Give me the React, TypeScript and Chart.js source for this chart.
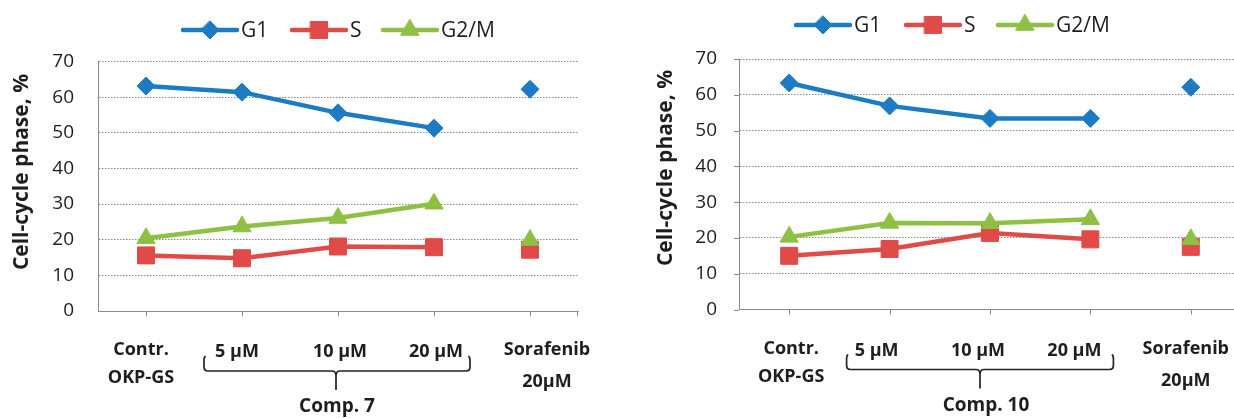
import React, { useEffect, useRef } from "react";
import { Chart, registerables } from "chart.js";

Chart.register(...registerables);

// ---------- data ----------
const categories = ["Contr. OKP-GS", "5 µM", "10 µM", "20 µM", "Sorafenib 20µM"];
const categoryLines = [["Contr.", "OKP-GS"], ["5 µM"], ["10 µM"], ["20 µM"], ["Sorafenib", "20µM"]];
const seriesNames = ["G1", "S", "G2/M"];
const comp7G1 = [63.1, 61.4, 55.6, 51.3, 62.2];
const comp7S = [15.6, 14.8, 18.1, 17.9, 17.2];
const comp7G2M = [20.4, 23.7, 26.1, 30.1, 19.9];
const comp10G1 = [63.3, 56.9, 53.4, 53.4, 62.1];
const comp10S = [15.0, 16.9, 21.4, 19.6, 17.5];
const comp10G2M = [20.3, 24.2, 24.1, 25.2, 19.6];
const yTickValues = [0, 10, 20, 30, 40, 50, 60, 70];
const yAxisTitle = "Cell-cycle phase, %";
const groupTitles = ["Comp. 7", "Comp. 10"];

// ---------- styles ----------
const FONT = "'Open Sans', 'DejaVu Sans', sans-serif";
const TEXT = "#1e1e1e";
const AXIS = "#8a8a8a";
const GRID = "#8a8a8a";
const BLUE = "#1c7bc3";
const RED = "#e04a47";
const GREEN = "#8dc043";
const seriesStyles = [
  { color: BLUE, pointStyle: "rectRot", radius: 9, order: 2 },
  { color: RED, pointStyle: "rect", radius: 12, order: 1 },
  { color: GREEN, pointStyle: "triangle", radius: 10.5, order: 0 },
];

type Spec = {
  canvasLeft: number;
  width: number;
  plotLeft: number;
  plotRight: number;
  top: number;
  bottom: number;
  yTickMarks: boolean;
  tickPad: number;
  legendX: number[];
  legendY: number;
  titleX: number;
  titleY: number;
  labelDx: number[];
  braceDx: number[]; // left (rel cat 1), stem (rel cat 2), right (rel cat 3)
  groupDx: number;
  groupTitle: string;
  series: number[][];
};

const panels: Spec[] = [
  {
    canvasLeft: 0, width: 620, plotLeft: 98, plotRight: 578, top: 61.5, bottom: 311,
    yTickMarks: false, tickPad: 24, legendX: [183, 292, 383], legendY: 30,
    titleX: 22, titleY: 172, labelDx: [-5, -5, 2, 2, 17], braceDx: [-38, -2, 36],
    groupDx: 1, groupTitle: groupTitles[0], series: [comp7G1, comp7S, comp7G2M],
  },
  {
    canvasLeft: 620, width: 640, plotLeft: 119, plotRight: 621, top: 59, bottom: 309.5,
    yTickMarks: true, tickPad: 22, legendX: [176, 286, 378], legendY: 25,
    titleX: 46, titleY: 168, labelDx: [2, -13, -12, -16, -5], braceDx: [-43, -10, 23],
    groupDx: 6, groupTitle: groupTitles[1], series: [comp10G1, comp10S, comp10G2M],
  },
];

function drawMarker(ctx: CanvasRenderingContext2D, style: string, x: number, y: number, r: number, color: string) {
  ctx.fillStyle = color;
  ctx.strokeStyle = color;
  ctx.lineWidth = 1;
  ctx.setLineDash([]);
  ctx.beginPath();
  if (style === "rectRot") {
    ctx.moveTo(x, y - r);
    ctx.lineTo(x + r, y);
    ctx.lineTo(x, y + r);
    ctx.lineTo(x - r, y);
    ctx.closePath();
  } else if (style === "rect") {
    const s = r * Math.SQRT1_2;
    ctx.rect(x - s, y - s, 2 * s, 2 * s);
  } else {
    ctx.moveTo(x, y - r);
    ctx.lineTo(x + r * 0.866, y + r * 0.5);
    ctx.lineTo(x - r * 0.866, y + r * 0.5);
    ctx.closePath();
  }
  ctx.fill();
  ctx.stroke();
}

function makeOverlay(spec: Spec) {
  return {
    id: "overlay",
    afterDraw(chart: any) {
      const ctx: CanvasRenderingContext2D = chart.ctx;
      const a = chart.chartArea;
      const xs = chart.scales.x;
      const ys = chart.scales.y;
      ctx.save();
      ctx.setLineDash([]);

      // tick marks
      ctx.strokeStyle = AXIS;
      ctx.lineWidth = 1;
      ctx.beginPath();
      for (let i = 0; i < categories.length; i++) {
        const px = Math.round(xs.getPixelForValue(i)) + 0.5;
        ctx.moveTo(px, a.bottom);
        ctx.lineTo(px, a.bottom + 5);
      }
      ctx.moveTo(Math.round(a.right) - 0.5, a.bottom);
      ctx.lineTo(Math.round(a.right) - 0.5, a.bottom + 5);
      if (spec.yTickMarks) {
        for (const v of yTickValues) {
          const py = Math.round(ys.getPixelForValue(v)) + 0.5;
          ctx.moveTo(a.left - 5, py);
          ctx.lineTo(a.left, py);
        }
      }
      ctx.stroke();

      // category labels
      ctx.fillStyle = TEXT;
      ctx.font = `bold 18px ${FONT}`;
      ctx.textAlign = "center";
      ctx.textBaseline = "middle";
      categoryLines.forEach((lines, i) => {
        const cx = xs.getPixelForValue(i) + spec.labelDx[i];
        if (lines.length === 1) {
          ctx.fillText(lines[0], cx, a.bottom + 41);
        } else {
          const second = i === 0 ? 67 : 71;
          ctx.fillText(lines[0], cx, a.bottom + 39);
          ctx.fillText(lines[1], cx, a.bottom + second);
        }
      });

      // brace
      const L = xs.getPixelForValue(1) + spec.braceDx[0];
      const M = xs.getPixelForValue(2) + spec.braceDx[1];
      const R = xs.getPixelForValue(3) + spec.braceDx[2];
      const T = a.bottom + 45;
      const H = a.bottom + 60;
      const S = a.bottom + 79;
      ctx.strokeStyle = "#222";
      ctx.lineWidth = 1.7;
      ctx.beginPath();
      ctx.moveTo(L + 1.5, T);
      ctx.quadraticCurveTo(L, T + 1, L, T + 4);
      ctx.lineTo(L, H - 4);
      ctx.quadraticCurveTo(L, H, L + 4, H);
      ctx.lineTo(M - 4, H);
      ctx.quadraticCurveTo(M, H, M, H + 5);
      ctx.lineTo(M, S);
      ctx.moveTo(M, H + 5);
      ctx.quadraticCurveTo(M, H, M + 4, H);
      ctx.lineTo(R - 4, H);
      ctx.quadraticCurveTo(R, H, R, H - 4);
      ctx.lineTo(R, T + 4);
      ctx.quadraticCurveTo(R, T + 1, R - 1.5, T);
      ctx.stroke();

      // group title
      ctx.fillStyle = TEXT;
      ctx.font = `bold 19px ${FONT}`;
      ctx.fillText(spec.groupTitle, M + spec.groupDx, a.bottom + 96);

      // y axis title
      ctx.save();
      ctx.translate(spec.titleX, spec.titleY);
      ctx.rotate(-Math.PI / 2);
      ctx.font = `bold 21px ${FONT}`;
      ctx.fillText(yAxisTitle, 0, 0);
      ctx.restore();

      // legend
      seriesNames.forEach((name, k) => {
        const st = seriesStyles[k];
        const x0 = spec.legendX[k];
        const y0 = spec.legendY;
        ctx.strokeStyle = st.color;
        ctx.lineWidth = 4.5;
        ctx.lineCap = "round";
        ctx.beginPath();
        ctx.moveTo(x0, y0);
        ctx.lineTo(x0 + 54, y0);
        ctx.stroke();
        drawMarker(ctx, st.pointStyle, x0 + 27, y0, st.radius, st.color);
        ctx.fillStyle = TEXT;
        ctx.font = `21px ${FONT}`;
        ctx.textAlign = "left";
        ctx.textBaseline = "middle";
        ctx.fillText(name, x0 + 58, y0 + 1);
      });

      ctx.restore();
    },
  };
}

function Panel({ spec }: { spec: Spec }) {
  const ref = useRef<HTMLCanvasElement>(null);
  useEffect(() => {
    const canvas = ref.current;
    if (!canvas) return;
    const lastIndex = categories.length - 1;
    const chart = new Chart(canvas, {
      type: "line",
      data: {
        labels: categories,
        datasets: seriesNames.map((name, k) => {
          const st = seriesStyles[k];
          return {
            label: name,
            data: spec.series[k],
            borderColor: st.color,
            backgroundColor: st.color,
            borderWidth: 4.5,
            pointStyle: st.pointStyle as any,
            pointRadius: st.radius,
            pointBorderWidth: 1,
            pointBackgroundColor: st.color,
            pointBorderColor: st.color,
            tension: 0,
            order: st.order,
            segment: {
              borderColor: (c: any) => (c.p1DataIndex === lastIndex ? "rgba(0,0,0,0)" : undefined),
            },
          };
        }),
      },
      options: {
        responsive: false,
        animation: false,
        events: [],
        layout: {
          padding: { left: 0, right: spec.width - spec.plotRight, top: spec.top, bottom: 418 - spec.bottom },
        },
        plugins: {
          legend: { display: false },
          tooltip: { enabled: false },
          title: { display: false },
        },
        scales: {
          x: {
            type: "category",
            offset: true,
            grid: { display: false },
            ticks: { display: false },
            border: { display: true, color: AXIS, width: 1 },
            afterFit: (s: any) => {
              s.height = 0;
            },
          },
          y: {
            min: yTickValues[0],
            max: yTickValues[yTickValues.length - 1],
            ticks: {
              stepSize: yTickValues[1] - yTickValues[0],
              padding: spec.tickPad,
              color: TEXT,
              font: { family: FONT, size: 19 },
            },
            grid: {
              drawTicks: false,
              lineWidth: 1,
              color: (c: any) => (c.tick && c.tick.value === 0 ? "rgba(0,0,0,0)" : GRID),
            },
            border: { display: true, color: AXIS, width: 1, dash: [1.5, 1.5] },
            afterFit: (s: any) => {
              s.width = spec.plotLeft;
            },
          },
        },
      },
      plugins: [makeOverlay(spec)],
    } as any);
    return () => chart.destroy();
  }, [spec]);
  return (
    <canvas
      ref={ref}
      width={spec.width}
      height={418}
      style={{ position: "absolute", left: spec.canvasLeft, top: 0, width: spec.width, height: 418 }}
    />
  );
}

export default function App() {
  return (
    <div
      style={{
        position: "fixed",
        left: 0,
        top: 0,
        width: 1234,
        height: 418,
        overflow: "hidden",
        background: "#ffffff",
      }}
    >
      {panels.map((p, i) => (
        <Panel key={i} spec={p} />
      ))}
    </div>
  );
}
